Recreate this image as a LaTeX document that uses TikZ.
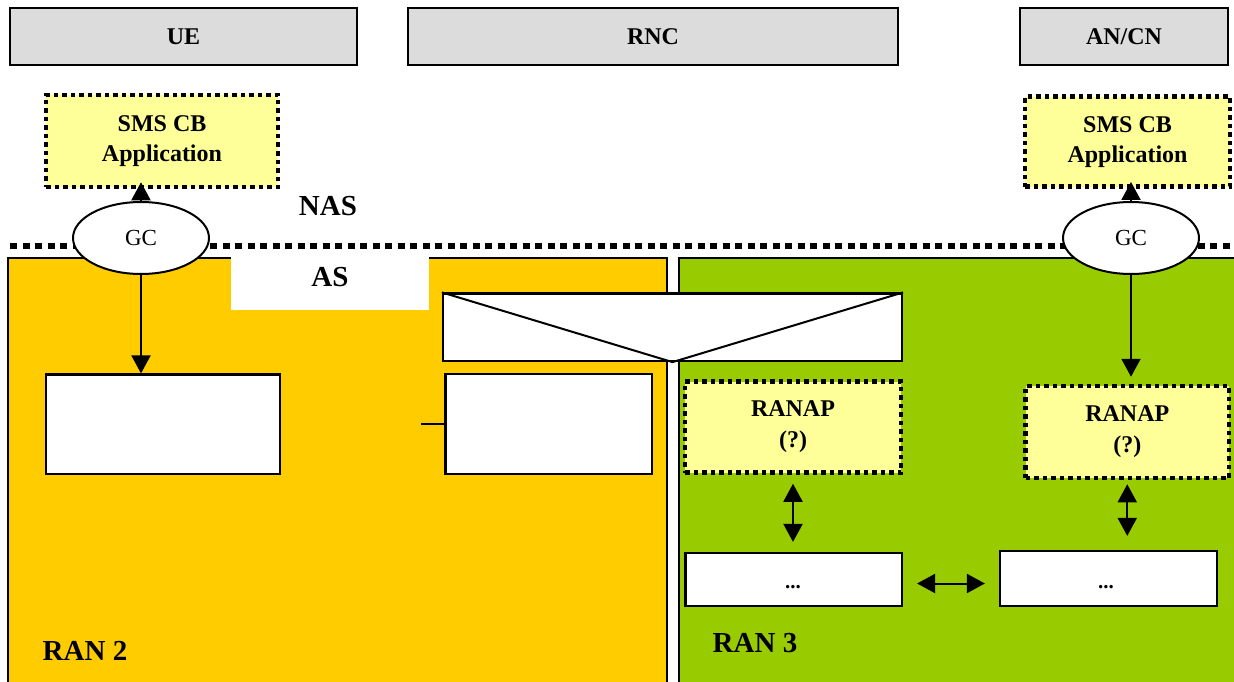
\documentclass[tikz,border=0pt]{standalone}
\usepackage{fontspec}
\setmainfont{Liberation Serif}
\usetikzlibrary{arrows.meta,shapes.geometric}
\definecolor{hdrgray}{HTML}{DCDCDC}
\definecolor{ranorange}{HTML}{FFCC00}
\definecolor{rangreen}{HTML}{99CC00}
\definecolor{appyellow}{HTML}{FFFF99}
\begin{document}
\begin{tikzpicture}[x=1pt,y=-1pt,
  header/.style={draw, line width=2pt, fill=hdrgray, inner sep=0pt,
    font=\fontsize{24}{28}\selectfont\bfseries},
  entity/.style={draw, dash pattern=on 4.5pt off 4pt, line width=4.5pt,
    fill=appyellow, inner sep=0pt, align=center,
    font=\fontsize{24}{30}\selectfont\bfseries},
  plainbox/.style={draw, line width=2.2pt, fill=white, inner sep=0pt},
  dotslabel/.style={anchor=base, inner sep=0pt, font=\fontsize{21}{24}\selectfont\bfseries},
  panel/.style={draw, line width=1.6pt, inner sep=0pt},
  gcnode/.style={ellipse, draw, line width=2pt, fill=white, inner sep=0pt,
    minimum width=136pt, minimum height=72pt, font=\fontsize{23}{26}\selectfont},
  biglabel/.style={inner sep=0pt, font=\fontsize{29}{32}\selectfont\bfseries},
  link/.style={line width=2pt},
  onetip/.style={link, -{Triangle[width=19pt,length=18pt]}},
  twotips/.style={link, {Triangle[width=19pt,length=18pt]}-{Triangle[width=19pt,length=18pt]}}
]
\useasboundingbox[fill=white] (0,0) rectangle (1234,682);

% protocol layer panels
\node[panel, fill=ranorange, minimum width=659pt, minimum height=428pt] (ran2) at (337.5,472) {};
\node[panel, fill=rangreen, minimum width=559pt, minimum height=428pt] (ran3) at (958.5,472) {};
\node[fill=white, inner sep=0pt, minimum width=198pt, minimum height=53pt] (asbox) at (330,283) {};
\node[biglabel] (aslabel) at (330,277.5) {AS};
\node[biglabel] (ran2label) at (85,651) {RAN 2};
\node[biglabel] (ran3label) at (755,643.5) {RAN 3};

% network entities
\node[header, minimum width=347pt, minimum height=57pt] (ue) at (183.5,36.5) {UE};
\node[header, minimum width=490pt, minimum height=57pt] (rnc) at (653,36.5) {RNC};
\node[header, minimum width=208pt, minimum height=57pt] (ancn) at (1124,36.5) {AN/CN};

% NAS / AS boundary
\node[biglabel] (naslabel) at (328,206) {NAS};
\coordinate (bndL) at (10,245.5);
\coordinate (bndR) at (1240,245.5);
\draw[line width=6pt, dash pattern=on 7pt off 5.5pt] (bndL) -- (bndR);

% applications
\node[entity, minimum width=232pt, minimum height=92pt] (smsL) at (162,141) {SMS CB\\Application};
\node[entity, minimum width=205pt, minimum height=90pt] (smsR) at (1127.5,141.7) {SMS CB\\Application};

\node[gcnode] (gcL) at (141,238) {GC};
\node[gcnode] (gcR) at (1131,238) {GC};

% lower layer boxes
\node[plainbox, minimum width=459pt, minimum height=67.5pt] (env) at (672.5,327.25) {};
\draw[link] (env.north west) -- (env.south) -- (env.north east);

\node[plainbox, minimum width=234pt, minimum height=99.5pt] (boxL) at (163,424.25) {};
\node[plainbox, minimum width=206.5pt, minimum height=100pt] (boxM) at (548.75,424) {};
\coordinate (stub) at (421,424);
\draw[link] (stub) -- (boxM.west);

\node[entity, minimum width=216pt, minimum height=91pt, font=\fontsize{24}{31}\selectfont\bfseries] (ranapL) at (793,427) {RANAP\\(?)};
\node[entity, minimum width=203.5pt, minimum height=92pt, font=\fontsize{24}{31}\selectfont\bfseries] (ranapR) at (1127.25,432) {RANAP\\(?)};

\node[plainbox, minimum width=216.5pt, minimum height=53pt] (dotsL) at (793.75,579.5) {};
\node[plainbox, minimum width=217pt, minimum height=55pt] (dotsR) at (1108.5,578.5) {};
\node[dotslabel] (dotsLtext) at (793,588) {...};
\node[dotslabel] (dotsRtext) at (1106,588) {...};

% connectors
\draw[onetip, shorten >=-7pt] (gcL.north) -- (gcL.north |- smsL.south);
\draw[onetip, shorten >=-7pt] (gcR.north) -- (gcR.north |- smsR.south);
\draw[onetip] (gcL.south) -- (gcL.south |- boxL.north);
\draw[onetip, shorten >=7pt] (gcR.south) -- (gcR.south |- ranapR.north);
\draw[twotips, shorten <=9pt, shorten >=10pt] (ranapL.south) -- (ranapL.south |- dotsL.north);
\draw[twotips, shorten <=4pt, shorten >=14pt] (ranapR.south) -- (ranapR.south |- dotsR.north);
\draw[twotips, shorten <=14pt, shorten >=14pt] ([yshift=-4pt]dotsL.east) -- ([yshift=-4pt]dotsL.east -| dotsR.west);
\end{tikzpicture}
\end{document}
